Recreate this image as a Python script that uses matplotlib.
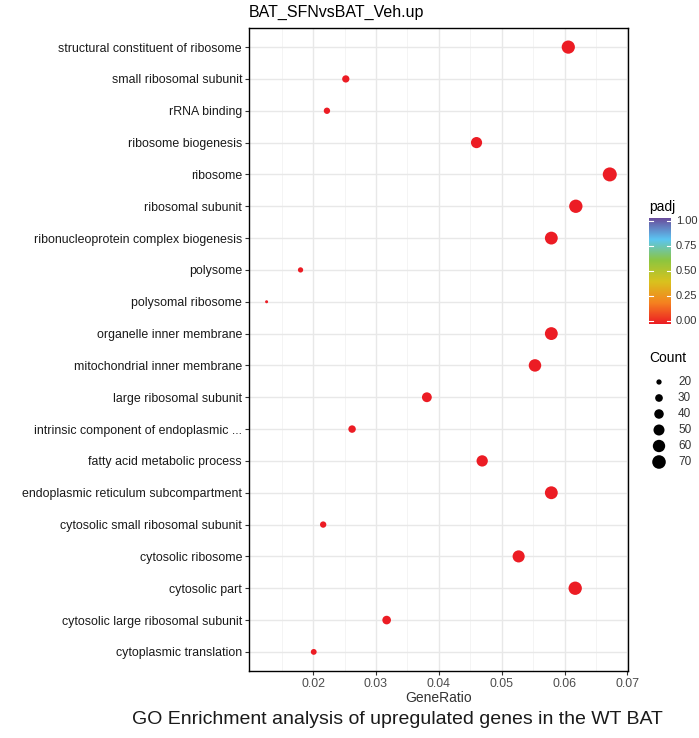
import numpy as np
import matplotlib
matplotlib.use("Agg")
import matplotlib.pyplot as plt
from matplotlib.colors import LinearSegmentedColormap, Normalize

plt.rcParams["font.family"] = ["Liberation Sans", "DejaVu Sans"]

# GO terms, top to bottom as drawn
terms = [
    "structural constituent of ribosome",
    "small ribosomal subunit",
    "rRNA binding",
    "ribosome biogenesis",
    "ribosome",
    "ribosomal subunit",
    "ribonucleoprotein complex biogenesis",
    "polysome",
    "polysomal ribosome",
    "organelle inner membrane",
    "mitochondrial inner membrane",
    "large ribosomal subunit",
    "intrinsic component of endoplasmic ...",
    "fatty acid metabolic process",
    "endoplasmic reticulum subcompartment",
    "cytosolic small ribosomal subunit",
    "cytosolic ribosome",
    "cytosolic part",
    "cytosolic large ribosomal subunit",
    "cytoplasmic translation",
]
gene_ratio = [0.0606, 0.0252, 0.0222, 0.0460, 0.0672, 0.0618, 0.0579, 0.0180, 0.0126, 0.0579,
              0.0553, 0.0381, 0.0262, 0.0469, 0.0579, 0.0216, 0.0527, 0.0617, 0.0317, 0.0201]
counts = [67, 28, 24, 51, 74, 68, 64, 20, 14, 64, 61, 42, 29, 52, 64, 24, 58, 68, 35, 22]
padj = [1e-12] * 20

x_ticks = [0.02, 0.03, 0.04, 0.05, 0.06, 0.07]
padj_ticks = [0.0, 0.25, 0.5, 0.75, 1.0]
count_legend = [20, 30, 40, 50, 60, 70]

cmap = LinearSegmentedColormap.from_list(
    "padj", ["#EC1C24", "#F58220", "#D9C21E", "#8DC63F", "#5BC5F2", "#6A4C9C"])
norm = Normalize(0, 1)


def size_of(c):
    return 1.62 * np.asarray(c, dtype=float) - 18


W, H = 699, 738
fig = plt.figure(figsize=(W / 100, H / 100), dpi=100)
ax = fig.add_axes([249 / W, 1 - 671 / H, (628 - 249) / W, (671 - 28) / H])

n = len(terms)
y = np.arange(n)[::-1]
ax.scatter(gene_ratio, y, s=size_of(counts), c=cmap(norm(padj)), linewidths=0, zorder=3)

ax.set_xlim(0.0098, 0.0701)
ax.set_ylim(-0.6, n - 0.4)
ax.set_yticks(y)
ax.set_yticklabels(terms, fontsize=8.9, color="#1a1a1a")
ax.set_xticks(x_ticks)
ax.set_xticklabels([f"{t:g}" for t in x_ticks], fontsize=8.9, color="#4d4d4d")
ax.set_xticks(np.arange(0.015, 0.07, 0.01), minor=True)
ax.grid(True, which="major", color="#E8E8E8", linewidth=1.0, zorder=0)
ax.grid(True, which="minor", axis="x", color="#F2F2F2", linewidth=0.6, zorder=0)
ax.tick_params(which="major", length=3, color="#333333", pad=2)
ax.tick_params(which="minor", length=0)
for sp in ax.spines.values():
    sp.set_color("black")
    sp.set_linewidth(1.0)
ax.set_axisbelow(True)

ax.set_xlabel("GeneRatio", fontsize=10, labelpad=1, color="#333333")
fig.text(249 / W, 1 - 12 / H, "BAT_SFNvsBAT_Veh.up", fontsize=11.5, va="center", ha="left")
fig.text(397 / W, 1 - 720 / H, "GO Enrichment analysis of upregulated genes in the WT BAT",
         fontsize=14, va="center", ha="center", color="#1a1a1a")

# padj colour bar
fig.text(649 / W, 1 - 207 / H, "padj", fontsize=10, va="center", ha="left")
cax = fig.add_axes([649 / W, 1 - 324 / H, 22 / W, (324 - 218) / H])
grad = np.linspace(0, 1, 256).reshape(-1, 1)
cax.imshow(grad, aspect="auto", cmap=cmap, origin="lower", extent=[0, 1, 0, 1])
cax.set_xticks([])
cax.set_yticks([])
for sp in cax.spines.values():
    sp.set_visible(False)
for t in padj_ticks:
    yy = 0.03 + t * 0.94
    cax.plot([0, 0.2], [yy, yy], color="white", lw=0.8)
    cax.plot([0.8, 1], [yy, yy], color="white", lw=0.8)
    fig.text(676 / W, 1 - (324 - yy * 106) / H, f"{t:.2f}", fontsize=8.0, va="center", ha="left",
             color="#333333")
cax.set_xlim(0, 1)
cax.set_ylim(0, 1)

# Count size legend
fig.text(649 / W, 1 - 358 / H, "Count", fontsize=10, va="center", ha="left")
lax = fig.add_axes([645 / W, 1 - 472 / H, 54 / W, 100 / H])
lax.set_xlim(0, 54)
lax.set_ylim(472, 372)
ly = 382 + 16 * np.arange(len(count_legend))
lax.scatter([14] * len(count_legend), ly, s=size_of(count_legend), c="black", linewidths=0)
for c, yy in zip(count_legend, ly):
    lax.text(33, yy, str(c), fontsize=8.5, va="center", ha="left", color="#333333")
lax.axis("off")

fig.savefig("out.png", dpi=100)
